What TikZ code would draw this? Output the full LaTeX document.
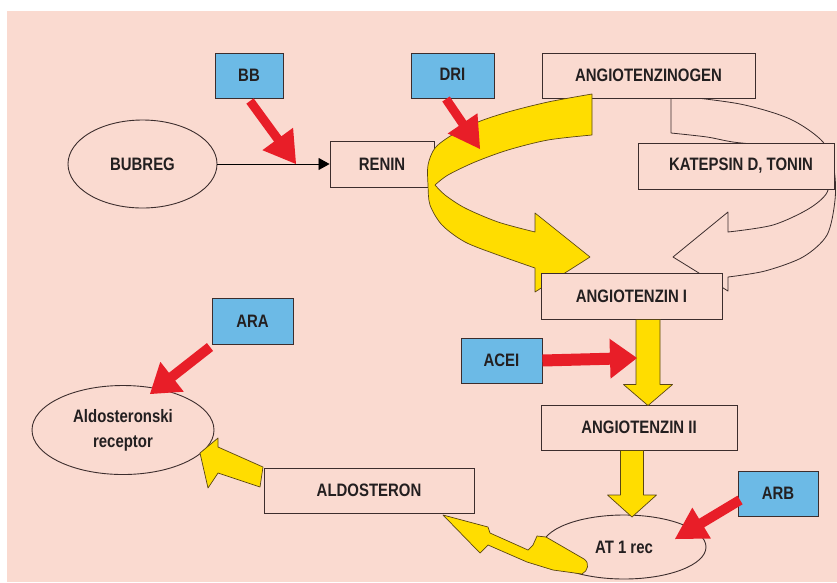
\documentclass[tikz,border=0pt]{standalone}
\usepackage{fontspec}
\setmainfont{Liberation Sans}[FakeStretch=0.83]
\usetikzlibrary{shapes.geometric,arrows.meta,calc}
\definecolor{bgpink}{RGB}{250,218,208}
\definecolor{boxblue}{RGB}{108,186,230}
\definecolor{arrred}{RGB}{232,30,40}
\definecolor{arryel}{RGB}{255,221,0}
\definecolor{edgecol}{RGB}{60,45,45}
\definecolor{yedge}{RGB}{90,70,20}
\definecolor{txtcol}{RGB}{35,31,32}

% block arrow: #1 style, #2 start, #3 tip, #4 half shaft width, #5 half head width, #6 head length
\newcommand\blkarrow[6]{%
  \coordinate (baS) at (#2);
  \coordinate (baT) at (#3);
  \coordinate (baB) at ($(baT)!#6!(baS)$);
  \path[#1] ($(baS)!#4!90:(baT)$) -- ($(baB)!#4!90:(baT)$) -- ($(baB)!#5!90:(baT)$) -- (baT)
    -- ($(baB)!#5!-90:(baT)$) -- ($(baB)!#4!-90:(baT)$) -- ($(baS)!#4!-90:(baT)$) -- cycle;
}

\tikzset{
  rect/.style={draw=edgecol, line width=0.9pt, fill=bgpink, inner sep=0pt},
  bluebox/.style={rect, fill=boxblue},
  ell/.style={ellipse, draw=edgecol, line width=0.9pt, fill=bgpink, inner sep=0pt, align=center},
  yel/.style={fill=arryel, draw=yedge, line width=0.7pt, line join=round},
  redarr/.style={fill=arrred},
  wht/.style={fill=bgpink, draw=edgecol, line width=0.8pt, line join=round},
  thinline/.style={draw=black, line width=0.8pt, -{Triangle[length=11pt,width=12pt]}}
}

\begin{document}
\begin{tikzpicture}[x=1pt,y=-1pt, font=\fontsize{18}{25}\selectfont\bfseries, text=txtcol]
\useasboundingbox (0,0) rectangle (837,582);
\fill[white] (0,0) rectangle (837,582);
\fill[bgpink] (7,11) rectangle (837,582);

% white (outlined) curved arrow
\draw[wht] plot[smooth] coordinates {(671,95) (740,104) (790,119) (823,142) (834,170) (835,200) (827,235) (803,257) (765,271) (728,277)}
  -- (728,291) -- (673,257) -- (728,212) -- (728,232)
  -- plot[smooth] coordinates {(728,232) (773,225) (810,208) (828,190) (820,165) (780,148) (733,142) (707,137) (671,133)} -- cycle;

% top row
\node[bluebox, minimum width=68pt, minimum height=45pt] (bb) at (249,75.5) {BB};
\node[bluebox, minimum width=83pt, minimum height=45pt] (dri) at (452.5,75.5) {\raisebox{3pt}{DRI}\hspace{8pt}};
\node[rect, minimum width=213pt, minimum height=45pt] (agen) at (648.5,75.5) {ANGIOTENZINOGEN};
\node[rect, minimum width=104pt, minimum height=46pt] (renin) at (382,164) {RENIN};
\node[ell, minimum width=149pt, minimum height=88pt] (bubreg) at (142.5,164) {BUBREG};

\draw[thinline] (bubreg) -- (renin);

\coordinate (bbS) at (250,101);
\coordinate (bbT) at (296,164);
\blkarrow{redarr}{bbS}{bbT}{4.5pt}{19pt}{31pt}

% yellow curved ribbon
\draw[yel] plot[smooth] coordinates {(592,94) (548,102) (508,112) (478,122) (452,135) (435,148) (428,165) (428,185) (430,205) (442,225) (465,242) (498,255) (535,268)}
  -- (535,292) -- (590,257) -- (535,213) -- (535,232)
  -- plot[smooth] coordinates {(535,232) (498,222) (465,208) (445,195) (435,185)}
  -- plot[smooth] coordinates {(435,185) (448,175) (475,162) (508,150) (548,140) (592,135)} -- cycle;

\coordinate (driS) at (446,99);
\coordinate (driT) at (480,149);
\blkarrow{redarr}{driS}{driT}{4.5pt}{18pt}{31pt}

\node[rect, minimum width=196pt, minimum height=46pt] (kat) at (736,166) {\hspace{10pt}KATEPSIN D, TONIN};
\node[rect, minimum width=181pt, minimum height=46pt] (a1) at (631.5,296) {ANGIOTENZIN I};

% middle column
\node[bluebox, minimum width=81pt, minimum height=45pt] (acei) at (501.5,360.5) {ACEI\hspace{10pt}};
\node[rect, minimum width=196pt, minimum height=45pt] (a2) at (639,427.5) {ANGIOTENZIN II};

\coordinate (y1S) at ($(a1.south)+(16.5,0)$);
\coordinate (y1T) at ($(a2.north)+(9,1)$);
\blkarrow{yel}{y1S}{y1T}{12pt}{24.5pt}{21pt}

\coordinate (aceiT) at (637,358);
\blkarrow{redarr}{acei.east}{aceiT}{6pt}{20pt}{27pt}

\node[ell, minimum width=164pt, minimum height=64pt] (at1) at (624,547) {AT 1 rec};
\coordinate (y2S) at ($(a2.south)+(-7,0)$);
\coordinate (y2T) at (632,517);
\blkarrow{yel}{y2S}{y2T}{11.5pt}{24.5pt}{22pt}

\node[bluebox, minimum width=80pt, minimum height=45pt] (arb) at (778,493.5) {ARB};
\coordinate (arbS) at (740,500);
\coordinate (arbT) at (675,539);
\blkarrow{redarr}{arbS}{arbT}{5pt}{18pt}{31pt}

% left part
\node[rect, minimum width=210pt, minimum height=45pt] (aldo) at (369,490.5) {ALDOSTERON\hspace{6pt}};
\node[ell, minimum width=182pt, minimum height=89pt] (arec) at (123,430) {Aldosteronski\\receptor};
\node[bluebox, minimum width=81pt, minimum height=46pt] (ara) at (252.5,321) {ARA};

\coordinate (araS) at (210,347);
\coordinate (araT) at (150,394);
\blkarrow{redarr}{araS}{araT}{5pt}{19pt}{28pt}

% yellow arrow AT1 -> ALDOSTERON
\coordinate (atA) at (443,515);
\draw[yel] (atA) -- (488,527) -- (490,533) -- (528,550) -- (533,545) -- (537,536) -- (546,537) -- (584,559)
  .. controls (590,563) and (588,571) .. (582,574) -- (553,570) -- (527,562) -- (488,545) -- (480,553) -- cycle;

% yellow arrow ALDOSTERON -> receptor
\coordinate (alA) at (200,453);
\draw[yel] (alA) -- (218,438) -- (218,447) -- (263,467) -- (260,487) -- (218,473) -- (208,488) -- cycle;

\end{tikzpicture}
\end{document}
